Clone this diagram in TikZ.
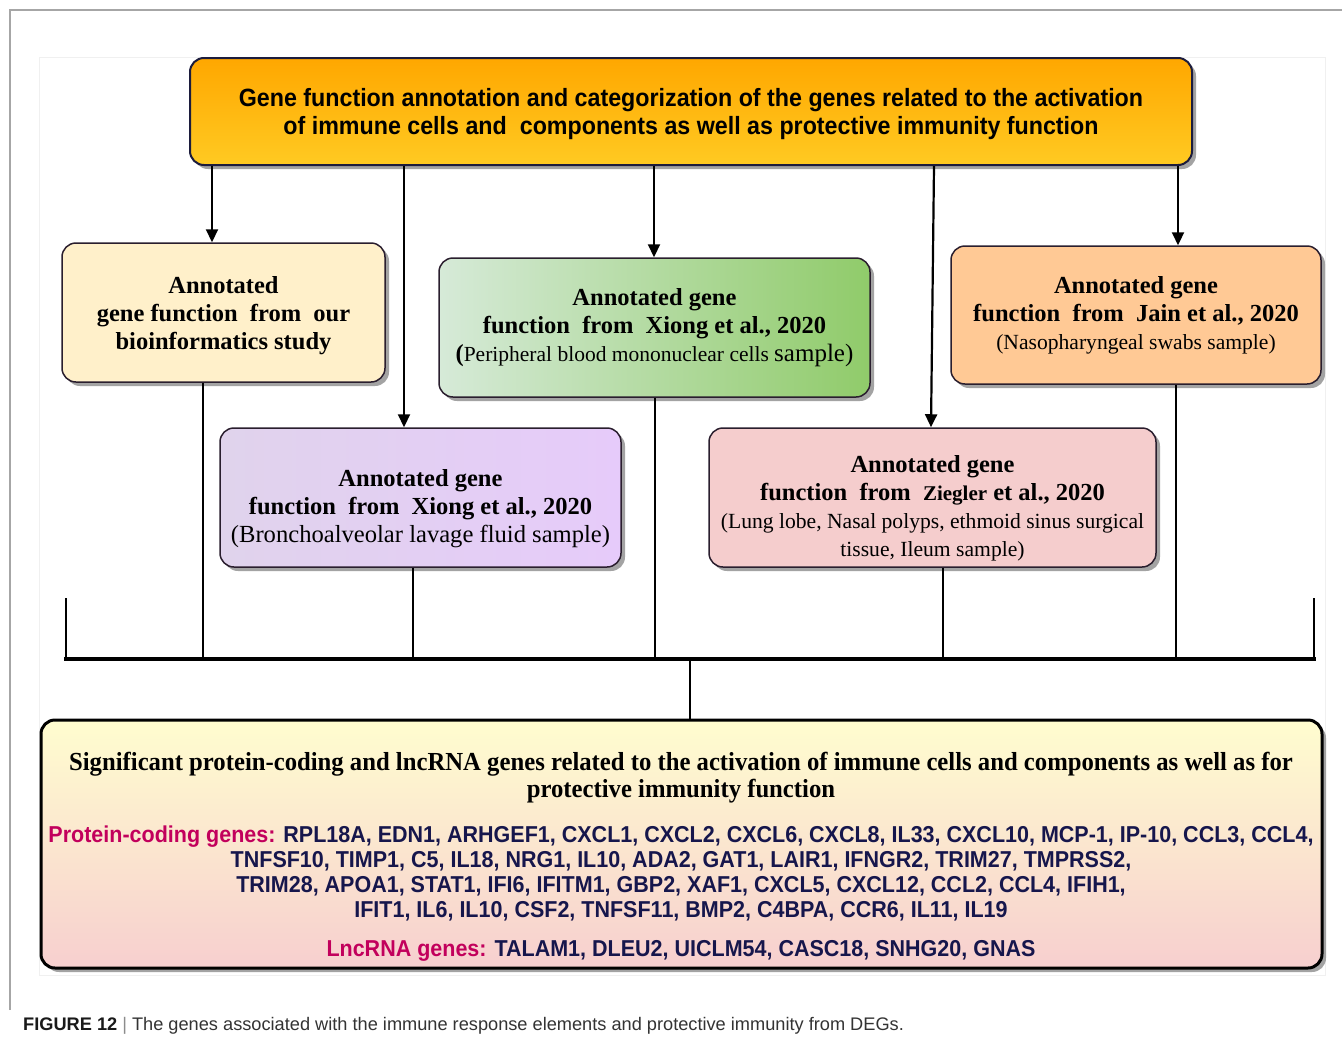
\documentclass[tikz,border=0pt]{standalone}
\usepackage{fontspec}
\setmainfont{Liberation Serif}
\setsansfont{Liberation Sans}
\newfontfamily\narrowsans[FakeStretch=0.93]{Liberation Sans}
\newfontfamily\genesans[FakeStretch=0.935]{Liberation Sans}
\newfontfamily\narrowserif[FakeStretch=0.95]{Liberation Serif}
\usetikzlibrary{arrows.meta,shadows,calc}
\definecolor{orangetop}{HTML}{FFA700}
\definecolor{orangebot}{HTML}{FFCA22}
\definecolor{creamfill}{HTML}{FFF0CA}
\definecolor{greenL}{HTML}{D6EAD8}
\definecolor{greenR}{HTML}{90CB6A}
\definecolor{peach}{HTML}{FFC995}
\definecolor{lavL}{HTML}{E0D3EC}
\definecolor{lavR}{HTML}{E6CBFA}
\definecolor{pinkfill}{HTML}{F5CDCD}
\definecolor{yelltop}{HTML}{FFFDCF}
\definecolor{pinkbot}{HTML}{F7CFCF}
\definecolor{pcol}{HTML}{C2005C}
\definecolor{gcol}{HTML}{16164C}
\definecolor{boxline}{HTML}{2A1E2E}
\definecolor{navyline}{HTML}{1C1C3C}
\begin{document}
\begin{tikzpicture}[x=1pt,y=-1pt,
  box/.style={draw=boxline, line width=1.5pt, rounded corners=14pt, align=center, inner sep=0pt,
    drop shadow={shadow xshift=4pt, shadow yshift=-4pt, fill=black!45, opacity=0.8}},
  boxtext/.style={font=\fontsize{24.5}{28}\selectfont},
  arr/.style={line width=2.2pt, -{Triangle[length=13pt,width=12pt]}},
  conn/.style={line width=2pt},
  busline/.style={line width=3.2pt},
]
\useasboundingbox (0,0) rectangle (1342,1039);
% page frame
\draw[black!35, line width=1.2pt] (10,1010) -- (10,10) -- (1342,10);
\draw[black!6, line width=0.6pt] (39,57) rectangle (1325,975);

% top box
\node[box, draw=navyline, line width=2pt, top color=orangetop, bottom color=orangebot,
  minimum width=1002pt, minimum height=107pt,
  font=\narrowsans\bfseries\fontsize{25}{28}\selectfont] (top) at (691,111.5)
  {\rule{0pt}{23pt}Gene function annotation and categorization of the genes related to the activation\\
   of immune cells and~ components as well as protective immunity function};

% middle boxes
\node[box, boxtext, fill=creamfill, minimum width=323pt, minimum height=139pt] (b1) at (223.5,312.5)
  {\rule{0pt}{23pt}\bfseries Annotated\\ \bfseries gene function~ from~ our\\ \bfseries bioinformatics study};
\node[box, boxtext, left color=greenL, right color=greenR, minimum width=431pt, minimum height=139pt] (b2) at (654.5,327.5)
  {\bfseries Annotated gene\\ \bfseries function~ from~ Xiong et al., 2020\\
   {\bfseries(}{\fontsize{21.5}{29}\selectfont Peripheral blood mononuclear cells }{\fontsize{25}{29}\selectfont sample)}};
\node[box, boxtext, fill=peach, minimum width=370pt, minimum height=138pt] (b3) at (1136,315)
  {\bfseries Annotated gene\\ \bfseries function~ from~ Jain et al., 2020\\
   {\fontsize{21.6}{30}\selectfont (Nasopharyngeal swabs sample)}};
\node[box, boxtext, left color=lavL, right color=lavR, minimum width=401pt, minimum height=139pt] (b4) at (420.5,497.5)
  {\rule{0pt}{39pt}\bfseries Annotated gene\\ \bfseries function~ from~ Xiong et al., 2020\\
   {\fontsize{24.6}{29}\selectfont (Bronchoalveolar lavage fluid sample)}};
\node[box, boxtext, fill=pinkfill, minimum width=447pt, minimum height=139pt] (b5) at (932.5,497.5)
  {\rule{0pt}{39pt}\bfseries Annotated gene\\ \bfseries function~ from~ {\fontsize{21}{28}\selectfont Ziegler} et al., 2020\\
   {\fontsize{21.6}{30}\selectfont (Lung lobe, Nasal polyps, ethmoid sinus surgical}\\
   {\fontsize{21.6}{29}\selectfont tissue, Ileum sample)}};

% bottom box
\node[box, draw=black, line width=3pt, top color=yelltop, bottom color=pinkbot,
  minimum width=1281pt, minimum height=248pt] (bot) at (681.5,844) {};
\node[align=center, font=\narrowserif\bfseries\fontsize{26}{27}\selectfont] (ttl) at (681,778)
  {Significant protein-coding and lncRNA genes related to the activation of immune cells and components as well as for\\
   protective immunity function};
\node[align=center, text=gcol, font=\genesans\bfseries\fontsize{23}{25}\selectfont] (pc) at (681,873)
  {{\color{pcol}Protein-coding genes:} RPL18A, EDN1, ARHGEF1, CXCL1, CXCL2, CXCL6, CXCL8, IL33, CXCL10, MCP-1, IP-10, CCL3, CCL4,\\
   TNFSF10, TIMP1, C5, IL18, NRG1, IL10, ADA2, GAT1, LAIR1, IFNGR2, TRIM27, TMPRSS2,\\
   TRIM28, APOA1, STAT1, IFI6, IFITM1, GBP2, XAF1, CXCL5, CXCL12, CCL2, CCL4, IFIH1,\\
   IFIT1, IL6, IL10, CSF2, TNFSF11, BMP2, C4BPA, CCR6, IL11, IL19};
\node[text=gcol, font=\genesans\bfseries\fontsize{23}{25}\selectfont] (lnc) at (681,951)
  {{\color{pcol}LncRNA genes:} TALAM1, DLEU2, UICLM54, CASC18, SNHG20, GNAS};

% caption
\node[anchor=west, inner sep=0pt, font=\sffamily\fontsize{18.2}{20}\selectfont, text=black!80] (cap) at (23,1026)
  {{\color{black!90}\textbf{FIGURE 12}}\ {\color{black!45}|}\ The genes associated with the immune response elements and protective immunity from DEGs.};

% coordinates for connector columns
\coordinate (a1) at (212,0);
\coordinate (a2) at (404,0);
\coordinate (a3) at (654,0);
\coordinate (a4s) at (934,0);
\coordinate (a4e) at (931,0);
\coordinate (a5) at (1178,0);
\coordinate (d1) at (203,0);
\coordinate (d2) at (413,0);
\coordinate (d3) at (655,0);
\coordinate (d4) at (943,0);
\coordinate (d5) at (1176,0);
\coordinate (busL) at (66,659);
\coordinate (busR) at (1314,659);
\coordinate (busLt) at (66,598);
\coordinate (busRt) at (1314,598);
\coordinate (mid) at (690,659);

% arrows from top box
\draw[arr] (a1 |- top.south) -- (a1 |- b1.north);
\draw[arr] (a2 |- top.south) -- (a2 |- b4.north);
\draw[arr] (a3 |- top.south) -- (a3 |- b2.north);
\draw[arr] (a4s |- top.south) -- (a4e |- b5.north);
\draw[arr] (a5 |- top.south) -- (a5 |- b3.north);

% lines down to bus
\draw[conn] (d1 |- b1.south) -- (d1 |- busL);
\draw[conn] (d2 |- b4.south) -- (d2 |- busL);
\draw[conn] (d3 |- b2.south) -- (d3 |- busL);
\draw[conn] (d4 |- b5.south) -- (d4 |- busL);
\draw[conn] (d5 |- b3.south) -- (d5 |- busL);
\draw[conn] (busLt) -- (busL);
\draw[conn] (busRt) -- (busR);
\draw[busline, line cap=rect] (busL) -- (busR);
\draw[conn] (mid) -- (mid |- bot.north);
\end{tikzpicture}
\end{document}
